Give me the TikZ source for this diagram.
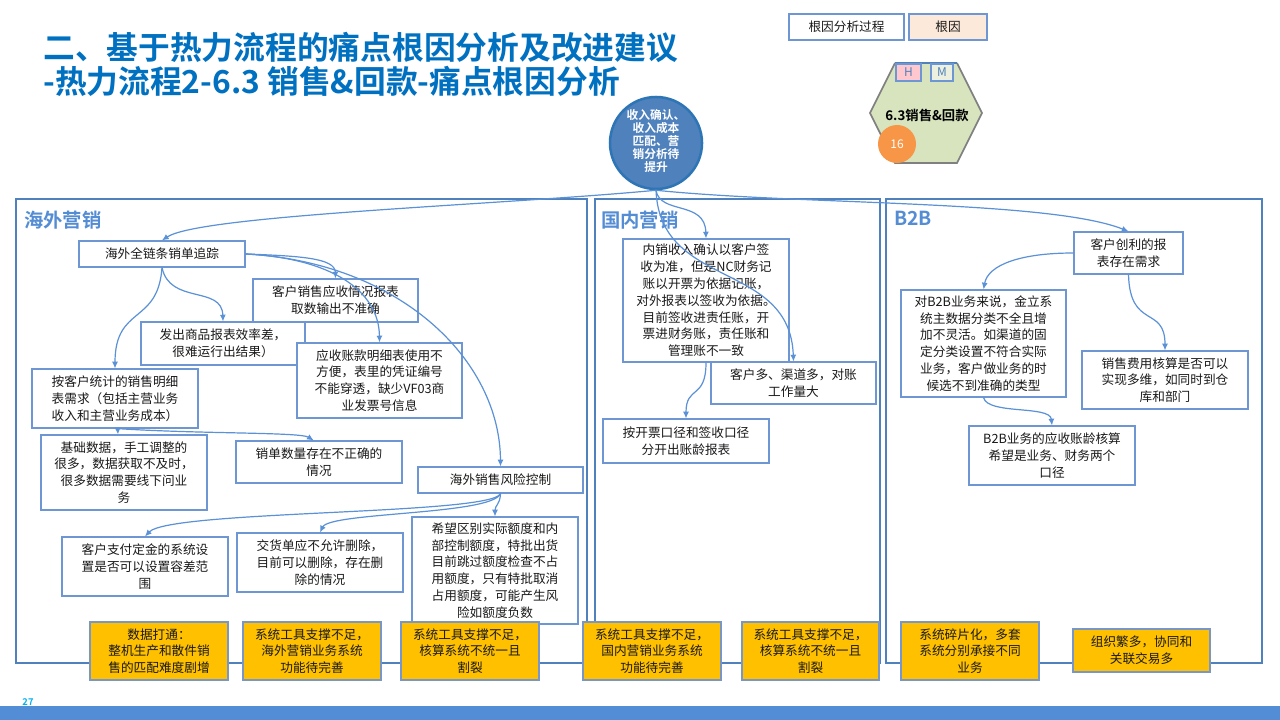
\documentclass[tikz,border=0pt]{standalone}
\usepackage{fontspec}
\setmainfont{Noto Sans CJK SC}[BoldFont={Noto Sans CJK SC Bold}]
\usetikzlibrary{arrows.meta}
\definecolor{titleblue}{RGB}{0,112,192}
\definecolor{paneltitle}{RGB}{84,141,212}
\definecolor{panelline}{RGB}{79,129,189}
\definecolor{boxline}{RGB}{110,150,210}
\definecolor{connc}{RGB}{90,145,215}
\definecolor{yel}{RGB}{255,192,0}
\definecolor{ybline}{RGB}{120,150,200}
\definecolor{txt}{RGB}{25,25,25}
\definecolor{circfill}{RGB}{79,129,189}
\definecolor{circline}{RGB}{46,117,182}
\definecolor{peach}{RGB}{253,233,217}
\definecolor{hexfill}{RGB}{215,228,189}
\definecolor{hexline}{RGB}{128,128,128}
\definecolor{hpink}{RGB}{255,199,206}
\definecolor{mlight}{RGB}{235,241,222}
\definecolor{orangec}{RGB}{247,150,70}
\definecolor{barblue}{RGB}{83,141,213}
\definecolor{pagenum}{RGB}{0,176,240}
\newcommand\mybox[7]{\node[#6, minimum width={(#4-#2)*0.75pt}, minimum height={(#5-#3)*0.75pt}] (#1) at ({(#2+#4)/2},{(#3+#5)/2}) {#7};}
\begin{document}
\begin{tikzpicture}[x=0.75pt,y=-0.75pt,
  box/.style={draw=boxline, line width=0.9pt, fill=white, inner sep=0pt, align=center, text=txt, font=\fontsize{9.5}{12.6}\selectfont},
  ybox/.style={draw=ybline, line width=0.8pt, fill=yel, inner sep=0pt, align=center, text=txt, font=\fontsize{9.5}{12.5}\selectfont},
  conn/.style={draw=connc, line width=0.9pt, -{Latex[length=5pt,width=4.5pt]}},
  panel/.style={draw=panelline, line width=1.9pt},
  ptitle/.style={anchor=west, inner sep=0pt, text=paneltitle, font=\bfseries\fontsize{14.5}{16}\selectfont},
  ttl/.style={anchor=west, inner sep=0pt, text=titleblue, font=\bfseries\fontsize{23.8}{26}\selectfont}]
\useasboundingbox (0,0) rectangle (1280,720);
\fill[white] (0,0) rectangle (1280,720);

% title
\node[ttl] (t1) at (43,47) {二、基于热力流程的痛点根因分析及改进建议};
\node[ttl] (t2) at (43,81) {-热力流程2-6.3 销售\&回款-痛点根因分析};

% legend
\mybox{lg1}{789}{14}{904}{40}{box}{根因分析过程}
\mybox{lg2}{909}{14}{987}{40}{box, fill=peach}{根因}

% hexagon
\fill[hexfill] (895,63) -- (957,63) -- (982,113) -- (957,163) -- (895,163) -- (870,113) -- cycle;
\draw[hexline, line width=1.2pt] (957,63) -- (982,113) -- (957,163) -- (895,163) -- (870,113) -- (895,63);
\draw[panelline, line width=1.5pt] (895,63) -- (957,63);
\mybox{hH}{896}{64}{921}{81}{box, fill=hpink, text=panelline, font=\fontsize{9}{10}\selectfont}{H}
\mybox{hM}{931}{64}{953}{81}{box, fill=mlight, text=panelline, font=\fontsize{9}{10}\selectfont}{M}
\node[inner sep=0pt, font=\bfseries\fontsize{10}{12}\selectfont, text=black] (hx) at (927,115) {6.3销售\&回款};
\node[circle, fill=orangec, minimum size=28.5pt, inner sep=0pt, text=white, font=\fontsize{9}{10}\selectfont] (n16) at (897,144) {16};

% panels
\draw[panel] (16,199) rectangle (587,663);
\draw[panel] (595,199) rectangle (880,663);
\draw[panel] (886,199) rectangle (1262,663);
\node[ptitle] (p1) at (24,220) {海外营销};
\node[ptitle] (p2) at (601,220) {国内营销};
\node[ptitle] (p3) at (894,218) {B2B};

% left panel boxes
\mybox{A}{79}{241}{245}{267}{box}{海外全链条销单追踪}
\mybox{B}{253}{279}{418}{322}{box}{客户销售应收情况报表\\取数输出不准确}
\mybox{C}{141}{322}{305}{365}{box}{发出商品报表效率差，\\很难运行出结果）}
\mybox{D}{297}{343}{462}{418}{box}{应收账款明细表使用不\\方便，表里的凭证编号\\不能穿透，缺少VF03商\\业发票号信息}
\mybox{E}{32}{369}{198}{428}{box}{按客户统计的销售明细\\表需求（包括主营业务\\收入和主营业务成本）}
\mybox{F}{41}{435}{207}{510}{box}{基础数据，手工调整的\\很多，数据获取不及时，\\很多数据需要线下问业\\务}
\mybox{G}{236}{441}{402}{483}{box}{销单数量存在不正确的\\情况}
\mybox{H}{418}{467}{583}{493}{box}{海外销售风险控制}
\mybox{I}{62}{537}{228}{596}{box}{客户支付定金的系统设\\置是否可以设置容差范\\围}
\mybox{J}{237}{533}{403}{592}{box}{交货单应不允许删除，\\目前可以删除，存在删\\除的情况}
\mybox{K}{412}{517}{578}{624}{box}{希望区别实际额度和内\\部控制额度，特批出货\\目前跳过额度检查不占\\用额度，只有特批取消\\占用额度，可能产生风\\险如额度负数}

% middle panel boxes
\mybox{M}{711}{362}{876}{404}{box}{客户多、渠道多，对账\\工作量大}
\mybox{L}{623}{239}{789}{362}{box}{内销收入确认以客户签\\收为准，但是NC财务记\\账以开票为依据记账，\\对外报表以签收为依据。\\目前签收进责任账，开\\票进财务账，责任账和\\管理账不一致}
\mybox{N}{603}{419}{769}{463}{box}{按开票口径和签收口径\\分开出账龄报表}

% right panel boxes
\mybox{O}{1074}{232}{1183}{274}{box}{客户创利的报\\表存在需求}
\mybox{P}{901}{290}{1066}{397}{box}{对B2B业务来说，金立系\\统主数据分类不全且增\\加不灵活。如渠道的固\\定分类设置不符合实际\\业务，客户做业务的时\\候选不到准确的类型}
\mybox{Q}{1082}{351}{1248}{409}{box}{销售费用核算是否可以\\实现多维，如同时到仓\\库和部门}
\mybox{R}{969}{426}{1135}{485}{box}{B2B业务的应收账龄核算\\希望是业务、财务两个\\口径}

% circle
\node[circle, fill=circfill, draw=circline, line width=1.9pt, minimum size=69pt, inner sep=0pt] (circ) at (656,143) {};
\node[inner sep=0pt, align=center, text=white, font=\bfseries\fontsize{8.8}{9.9}\selectfont] (circt) at (656,141) {收入确认、\\收入成本\\匹配、营\\销分析待\\提升};

% connectors
\draw[conn] (circ.south) .. controls (500,205) and (200,215) .. (A.north);
\draw[conn] (circ.south) .. controls (800,205) and (1050,200) .. (O.north);
\draw[conn] (circ.south) .. controls (660,215) and (705,200) .. (L.north);
\draw[conn] (circ.south) .. controls (660,290) and (790,260) .. (M.north);

\draw[conn] (A.south) .. controls (158,325) and (115,305) .. (E.north);
\draw[conn] (A.south) .. controls (170,305) and (222,285) .. (C.north);
\draw[conn] (A.east) .. controls (300,256) and (335,258) .. (B.north);
\draw[conn] (A.east) .. controls (330,258) and (379,290) .. (D.north);
\draw[conn] (A.east) .. controls (400,262) and (500,360) .. (H.north);
\draw[conn] ([xshift=2pt]E.south) -- ([xshift=-4.5pt]F.north);
\draw[conn] ([xshift=2pt]E.south) .. controls (200,434) and (300,432) .. ([xshift=-4pt]G.north);
\draw[conn] (H.south) .. controls (492,515) and (170,510) .. (I.north);
\draw[conn] (H.south) .. controls (492,515) and (330,512) .. (J.north);
\draw[conn] (H.south) .. controls (500,505) and (495,505) .. (K.north);

\draw[conn] (L.south) .. controls (706,400) and (686,385) .. (N.north);

\draw[conn] (O.west) .. controls (1020,253) and (988,265) .. (P.north);
\draw[conn] (O.south) .. controls (1130,330) and (1165,305) .. (Q.north);
\draw[conn] (P.south) .. controls (988,415) and (1050,405) .. (R.north);

% root causes
\mybox{Y1}{90}{622}{228}{680}{ybox}{数据打通：\\整机生产和散件销\\售的匹配难度剧增}
\mybox{Y2}{243}{622}{381}{680}{ybox}{系统工具支撑不足，\\海外营销业务系统\\功能待完善}
\mybox{Y3}{401}{622}{539}{680}{ybox}{系统工具支撑不足，\\核算系统不统一且\\割裂}
\mybox{Y4}{583}{622}{721}{680}{ybox}{系统工具支撑不足，\\国内营销业务系统\\功能待完善}
\mybox{Y5}{742}{622}{879}{680}{ybox}{系统工具支撑不足，\\核算系统不统一且\\割裂}
\mybox{Y6}{901}{622}{1039}{680}{ybox}{系统碎片化，多套\\系统分别承接不同\\业务}
\mybox{Y7}{1073}{629}{1210}{672}{ybox}{组织繁多，协同和\\关联交易多}

% footer
\fill[barblue] (0,706) rectangle (1280,720);
\node[inner sep=0pt, text=pagenum, font=\bfseries\fontsize{7}{8}\selectfont] (pg) at (28,702) {27};
\end{tikzpicture}
\end{document}
